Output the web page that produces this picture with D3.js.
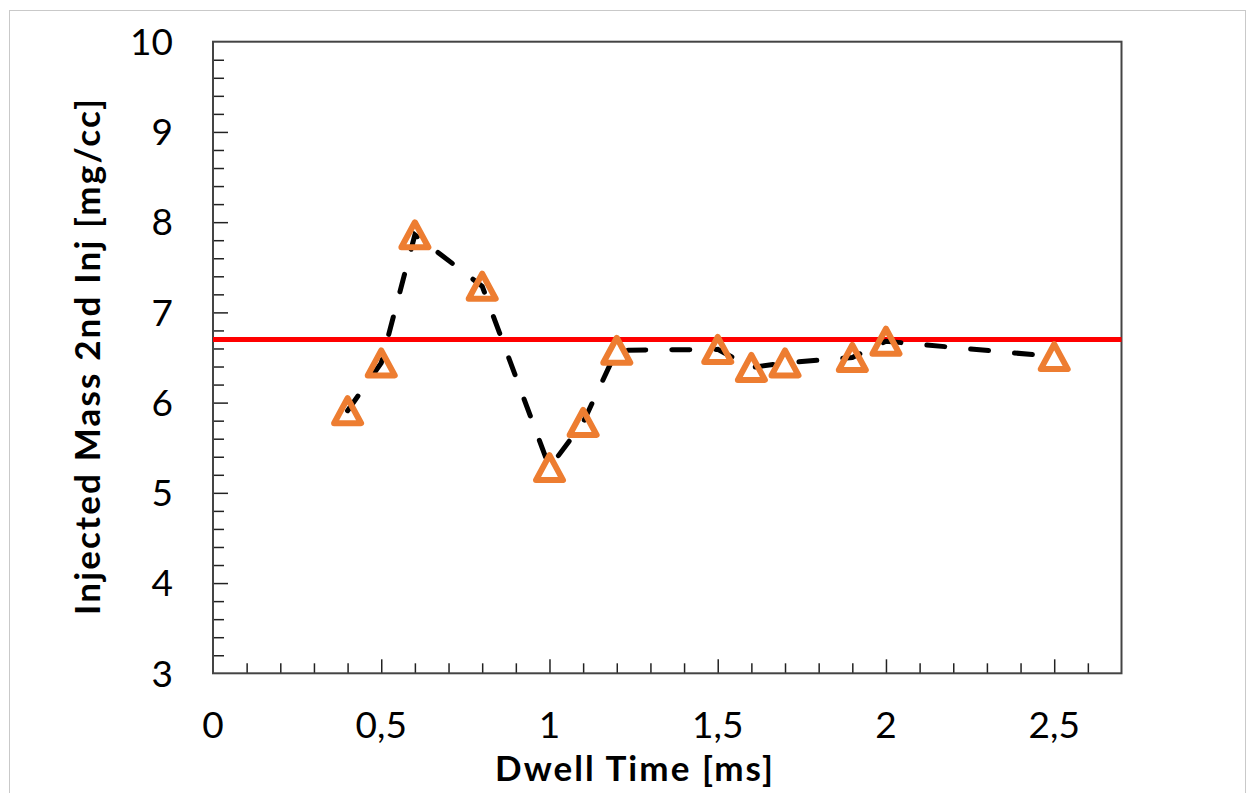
<!DOCTYPE html>
<html>
<head>
<meta charset="utf-8">
<script src="https://cdn.jsdelivr.net/npm/d3@7"></script>
<style>
  html, body { margin: 0; padding: 0; background: #fff; }
  svg { display: block; }
</style>
</head>
<body>
<script>
// Dwell time sweep: injected mass of the second injection
const dwellTime = [0.4, 0.5, 0.6, 0.8, 1.0, 1.1, 1.2, 1.5, 1.6, 1.7, 1.9, 2.0, 2.5];
const injectedMass = [5.91, 6.44, 7.86, 7.29, 5.28, 5.78, 6.58, 6.59, 6.39, 6.44, 6.50, 6.68, 6.51];
const referenceMass = 6.7;

const xTicks = [0, 0.5, 1, 1.5, 2, 2.5];
const yTicks = [3, 4, 5, 6, 7, 8, 9, 10];
const xTitle = "Dwell Time [ms]";
const yTitle = "Injected Mass 2nd Inj [mg/cc]";

const W = 1248, H = 793;
const margin = { left: 213, right: 1248 - 1121.5, top: 41.7, bottom: 793 - 673.3 };

const svg = d3.select("body").append("svg")
  .attr("width", W).attr("height", H);

// outer chart-area frame
svg.append("rect")
  .attr("x", 9.5).attr("y", 10.5)
  .attr("width", 1236).attr("height", 800)
  .attr("fill", "#fff").attr("stroke", "#c9c9c9").attr("stroke-width", 1);

const x = d3.scaleLinear().domain([0, 2.7]).range([margin.left, W - margin.right]);
const y = d3.scaleLinear().domain([3, 10]).range([H - margin.bottom, margin.top]);

const fmt = d => String(d).replace(".", ",");
const font = "Lato, 'Open Sans', sans-serif";

// minor ticks (inside)
const xMinor = d3.range(1, 27).map(i => i / 10);
const yMinor = d3.range(1, 35).map(i => 3 + i / 5);

const gx = svg.append("g").attr("transform", `translate(0,${y(3)})`);
gx.call(d3.axisBottom(x).tickValues(xMinor).tickSize(-10).tickFormat(""));
gx.selectAll(".tick line").attr("stroke", "#222").attr("stroke-width", 1.5)
  .attr("y2", d => (Math.abs(d * 2 - Math.round(d * 2)) < 1e-6 ? -14 : -10));
gx.select(".domain").remove();

const gy = svg.append("g").attr("transform", `translate(${x(0)},0)`);
gy.call(d3.axisLeft(y).tickValues(yMinor).tickSize(-11).tickFormat(""));
gy.selectAll(".tick line").attr("stroke", "#222").attr("stroke-width", 1.5)
  .attr("x2", d => (Math.abs(d - Math.round(d)) < 1e-6 ? 15 : 11));
gy.select(".domain").remove();

// plot frame
svg.append("rect")
  .attr("x", x(0)).attr("y", y(10))
  .attr("width", x(2.7) - x(0)).attr("height", y(3) - y(10))
  .attr("fill", "none").attr("stroke", "#444").attr("stroke-width", 2);

// tick labels
svg.append("g").selectAll("text").data(xTicks).join("text")
  .attr("x", d => x(d)).attr("y", 738)
  .attr("text-anchor", "middle")
  .attr("font-family", font).attr("font-size", 37).attr("fill", "#000")
  .text(fmt);

svg.append("g").selectAll("text").data(yTicks).join("text")
  .attr("x", 173).attr("y", d => y(d))
  .attr("dy", "0.36em")
  .attr("text-anchor", "end")
  .attr("font-family", font).attr("font-size", 37).attr("fill", "#000")
  .text(fmt);

// axis titles
svg.append("text")
  .attr("x", 634).attr("y", 781)
  .attr("text-anchor", "middle")
  .attr("font-family", font).attr("font-weight", "bold").attr("font-size", 35)
  .attr("textLength", 278).attr("lengthAdjust", "spacing")
  .text(xTitle);

svg.append("text")
  .attr("transform", `translate(100,357) rotate(-90)`)
  .attr("text-anchor", "middle")
  .attr("font-family", font).attr("font-weight", "bold").attr("font-size", 35)
  .attr("textLength", 516).attr("lengthAdjust", "spacing")
  .text(yTitle);

// reference level
svg.append("line")
  .attr("x1", x(0)).attr("x2", x(2.7))
  .attr("y1", y(referenceMass)).attr("y2", y(referenceMass))
  .attr("stroke", "#ff0000").attr("stroke-width", 5);

// measured series
const pts = dwellTime.map((t, i) => [t, injectedMass[i]]);
svg.append("path")
  .datum(pts)
  .attr("d", d3.line().x(d => x(d[0])).y(d => y(d[1])))
  .attr("fill", "none").attr("stroke", "#000").attr("stroke-width", 5)
  .attr("stroke-linecap", "round").attr("stroke-dasharray", "18 26");

// triangle markers, centred on their bounding box
const tri = (cx, cy) => {
  const w = 27, h = 25;
  return `M${cx},${cy - h / 2}L${cx + w / 2},${cy + h / 2}L${cx - w / 2},${cy + h / 2}Z`;
};
svg.append("g").selectAll("path").data(pts).join("path")
  .attr("d", d => tri(x(d[0]), y(d[1])))
  .attr("fill", "none").attr("stroke", "#ed7d31").attr("stroke-width", 6)
  .attr("stroke-linejoin", "round");
</script>
</body>
</html>
